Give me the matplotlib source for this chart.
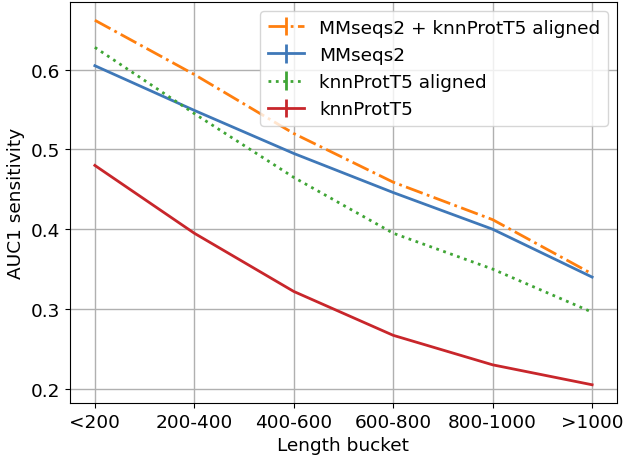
import matplotlib
matplotlib.use("Agg")
import matplotlib.pyplot as plt

buckets = ["<200", "200-400", "400-600", "600-800", "800-1000", ">1000"]
combined = [0.662, 0.594, 0.520, 0.459, 0.412, 0.344]
mmseqs2 = [0.605, 0.549, 0.495, 0.446, 0.400, 0.340]
knn_aligned = [0.628, 0.545, 0.465, 0.395, 0.350, 0.296]
knn = [0.480, 0.395, 0.322, 0.267, 0.230, 0.205]
zero_err = [0, 0, 0, 0, 0, 0]

plt.rcParams['font.family'] = ['DejaVu Sans']
plt.rcParams['font.size'] = 13.3

fig = plt.figure(figsize=(6.26, 4.64), dpi=100)
ax = fig.add_axes([0.1118, 0.1293, 0.8738, 0.8642])

x = list(range(len(buckets)))
lw = 2.0
ax.errorbar(x, combined, yerr=zero_err, color="#ff7f0e", linestyle="-.", lw=lw,
            label="MMseqs2 + knnProtT5 aligned")
ax.errorbar(x, mmseqs2, yerr=zero_err, color="#3f78b8", linestyle="-", lw=lw,
            label="MMseqs2")
ax.errorbar(x, knn_aligned, yerr=zero_err, color="#3fa535", linestyle=":", lw=lw,
            label="knnProtT5 aligned")
ax.errorbar(x, knn, yerr=zero_err, color="#c8262b", linestyle="-", lw=lw,
            label="knnProtT5")

ax.set_xticks(x)
ax.set_xticklabels(buckets)
ax.set_xlabel("Length bucket")
ax.set_ylabel("AUC1 sensitivity")
ax.grid(True, color="#b0b0b0", lw=1.0)
ax.set_axisbelow(True)
ax.legend(loc="upper right")

fig.savefig("out.png", dpi=100)
